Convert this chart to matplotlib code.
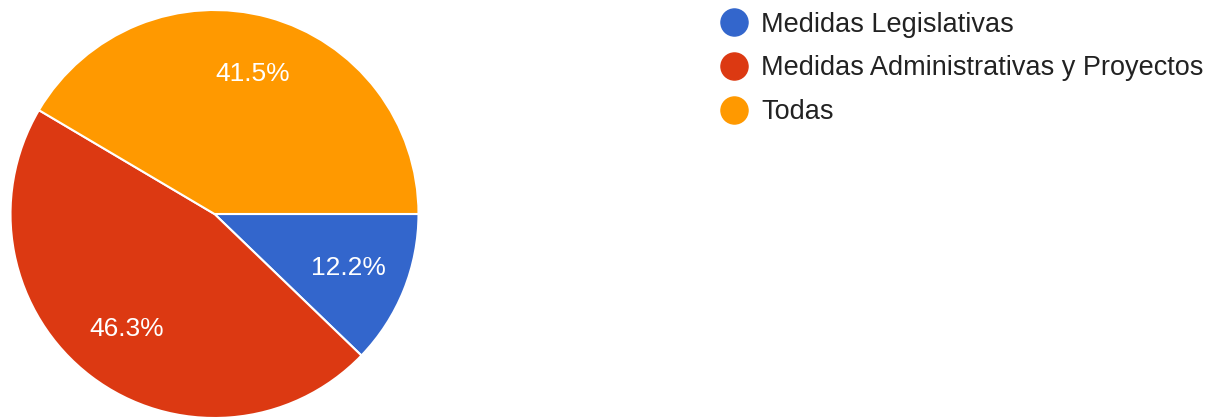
import matplotlib
matplotlib.use("Agg")
import matplotlib.pyplot as plt
from matplotlib.lines import Line2D

categories = ["Medidas Legislativas", "Medidas Administrativas y Proyectos", "Todas"]
values = [12.2, 46.3, 41.5]
colors = ["#3366cc", "#dc3912", "#ff9900"]

plt.rcParams['font.family'] = ['Liberation Sans', 'DejaVu Sans']

W, H = 1219, 417
fig = plt.figure(figsize=(W / 100, H / 100), dpi=100)
ax = fig.add_axes([0, 0, 1, 1])

wedges, texts, autotexts = ax.pie(
    values, colors=colors, startangle=0, counterclock=False,
    center=(214.5, 203), radius=204,
    autopct='%1.1f%%', pctdistance=0.71,
    wedgeprops=dict(edgecolor='white', linewidth=1.5),
    textprops=dict(color='white', fontsize=19),
)
ax.set_xlim(0, W)
ax.set_ylim(0, H)
ax.set_aspect('equal')
ax.axis('off')

handles = [Line2D([], [], marker='o', linestyle='', markersize=19.5,
                  markerfacecolor=c, markeredgecolor=c) for c in colors]
leg = fig.legend(handles, categories, loc='upper left',
                 bbox_to_anchor=(704 / W, 1 + 2 / H), frameon=False,
                 fontsize=19.5, labelspacing=0.66, handletextpad=0.4,
                 handlelength=1.2, borderpad=0.0)
for t in leg.get_texts():
    t.set_color('#222222')

fig.savefig("out.png", dpi=100)
